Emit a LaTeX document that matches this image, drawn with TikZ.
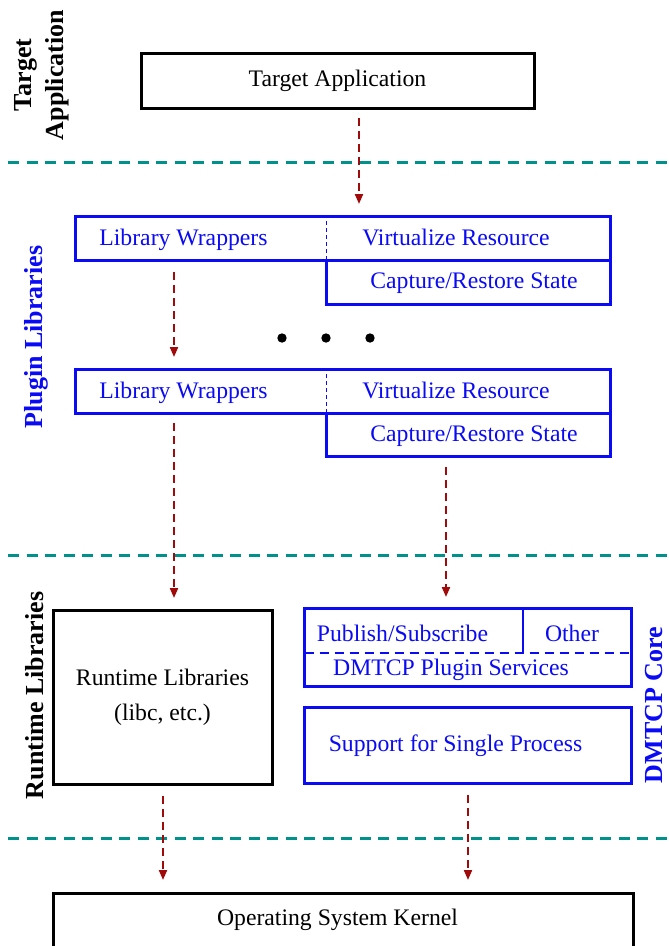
\documentclass[tikz,border=0pt]{standalone}
\usepackage{fontspec}
\setmainfont{Liberation Serif}
\usetikzlibrary{arrows.meta}
\definecolor{myblue}{RGB}{10,10,245}
\definecolor{myteal}{RGB}{0,145,140}
\definecolor{myred}{RGB}{160,10,10}
\newcommand\mainsz{\fontsize{23.7pt}{35pt}\selectfont}
\newcommand\sidesz{\fontsize{26pt}{32pt}\selectfont\bfseries}
\tikzset{
  blk/.style={draw=black, line width=3pt, inner sep=0pt, outer sep=0pt, font=\mainsz},
  blu/.style={draw=myblue, line width=3pt, inner sep=0pt, outer sep=0pt},
  btxt/.style={text=myblue, font=\mainsz, inner sep=0pt, text height=18pt, text depth=4pt},
  ktxt/.style={text=black, font=\mainsz, inner sep=0pt, text height=18pt, text depth=4pt},
  arr/.style={draw=myred, line width=2pt, dash pattern=on 8pt off 5pt, -{Triangle[length=10pt,width=8pt]}},
  sepline/.style={draw=myteal, line width=3pt, dash pattern=on 11pt off 7.5pt},
  side/.style={rotate=90, font=\sidesz, align=center, inner sep=0pt},
  divline/.style={draw=myblue, line width=1pt, dash pattern=on 4pt off 3pt},
}
\begin{document}
\begin{tikzpicture}[x=1pt,y=-1pt]
\useasboundingbox (0,0) rectangle (669,946);
\clip (0,0) rectangle (669,946);

% separators
\draw[sepline] (8,162) -- (669,162);
\draw[sepline] (8,555) -- (669,555);
\draw[sepline] (8,838) -- (669,838);

% side labels
\node[side] (lta) at (42,75) {Target\\Application};
\node[side, text=myblue] (lpl) at (36,337) {Plugin Libraries};
\node[side] (lrl) at (35,695.5) {Runtime Libraries};
\node[side, text=myblue] (ldc) at (654,705) {DMTCP Core};

% target application
\node[blk, minimum width=393pt, minimum height=55pt] (ta) at (337.5,80.5) {};
\node[ktxt] (tat) at (337.5,79) {Target Application};

% plugin 1
\node[blu, minimum width=535pt, minimum height=44pt] (pw1) at (342.5,238) {};
\node[btxt] (lw1) at (183.5,238) {Library Wrappers};
\node[btxt] (vr1) at (456,238) {Virtualize Resource};
\node[blu, minimum width=284pt, minimum height=44pt] (cr1) at (468,282) {};
\node[btxt] (cs1) at (474,281) {Capture/Restore State};
\draw[divline] (cr1.north west) -- (cr1.north west |- pw1.north);

% dots
\fill (282,338) circle[radius=4.7pt];
\fill (326,338) circle[radius=4.7pt];
\fill (370,338) circle[radius=4.7pt];

% plugin 2
\node[blu, minimum width=535pt, minimum height=44pt] (pw2) at (342.5,391) {};
\node[btxt] (lw2) at (183.5,391) {Library Wrappers};
\node[btxt] (vr2) at (456,391) {Virtualize Resource};
\node[blu, minimum width=284pt, minimum height=43pt] (cr2) at (468,434.5) {};
\node[btxt] (cs2) at (474,434) {Capture/Restore State};
\draw[divline] (cr2.north west) -- (cr2.north west |- pw2.north);

% runtime libraries
\node[blk, minimum width=219pt, minimum height=174pt, align=center] (rl) at (162.5,697) {Runtime Libraries\\(libc, etc.)};

% DMTCP plugin services
\node[blu, minimum width=327pt, minimum height=78pt] (ps) at (468,647) {};
\node[btxt] (pub) at (402.5,634) {Publish/Subscribe};
\node[btxt] (oth) at (572,634) {Other};
\node[btxt] (dps) at (451,668) {DMTCP Plugin Services};
\draw[myblue, line width=1.5pt, dash pattern=on 9pt off 6pt] (ps.west |- 0,653) -- (ps.east |- 0,653);
\draw[myblue, line width=2.5pt] (ps.north -| 523,0) -- (523,653);

% support for single process
\node[blu, minimum width=327pt, minimum height=76pt] (ss) at (468,745) {};
\node[btxt] (sp) at (455.5,744) {Support for Single Process};

% OS kernel
\node[blk, minimum width=580pt, minimum height=80pt] (os) at (343,933) {};
\node[ktxt] (ost) at (337.5,918) {Operating System Kernel};

% arrows
\draw[arr, shorten <=10pt, shorten >=12pt] (ta.south -| 359,0) -- (pw1.north -| 359,0);
\draw[arr, shorten <=12pt, shorten >=12pt] (pw1.south -| 174,0) -- (pw2.north -| 174,0);
\draw[arr, shorten <=10pt, shorten >=12pt] (pw2.south -| 174,0) -- (rl.north -| 174,0);
\draw[arr, shorten <=11pt, shorten >=11pt] (cr2.south -| 446,0) -- (ps.north -| 446,0);
\draw[arr, shorten <=12pt, shorten >=13pt] (rl.south -| 163,0) -- (os.north -| 163,0);
\draw[arr, shorten <=12pt, shorten >=13pt] (ss.south -| 468,0) -- (os.north -| 468,0);
\end{tikzpicture}
\end{document}
